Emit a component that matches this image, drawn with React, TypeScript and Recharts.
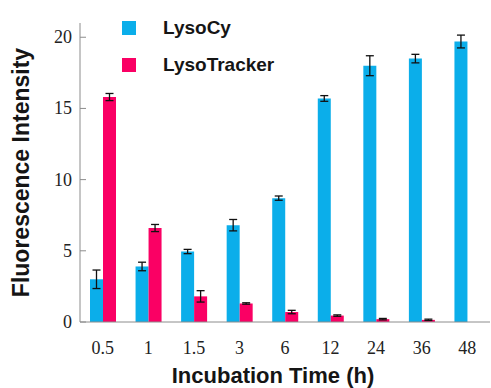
import React from "react";
import { BarChart, Bar, XAxis, YAxis, ErrorBar } from "recharts";

// ─── Data ─────────────────────────────────────────────────────────────────────

const categories = ["0.5", "1", "1.5", "3", "6", "12", "24", "36", "48"];
const lysoCy = [3.0, 3.9, 4.95, 6.8, 8.7, 15.7, 18.0, 18.5, 19.7];
const lysoCyErr = [0.65, 0.3, 0.15, 0.4, 0.15, 0.2, 0.7, 0.3, 0.45];
const lysoTracker = [15.8, 6.6, 1.8, 1.3, 0.7, 0.45, 0.2, 0.15, null];
const lysoTrackerErr = [0.25, 0.25, 0.4, 0.05, 0.12, 0.05, 0.05, 0.05, null];
const yTicks = [0, 5, 10, 15, 20];

const BLUE = "#0BAEEA";
const PINK = "#FA0064";
const AXIS = "#8c8c8c";
const SANS = "'Liberation Sans', Arial, sans-serif";
const SERIF = "'Liberation Serif', 'Times New Roman', serif";

const data = categories.map((time, i) => ({
  time,
  lysoCy: lysoCy[i],
  lysoCyErr: lysoCyErr[i],
  lysoTracker: lysoTracker[i],
  lysoTrackerErr: lysoTrackerErr[i],
}));

const series = [
  { name: "LysoCy", color: BLUE },
  { name: "LysoTracker", color: PINK },
];

// ─── Legend (overlay, no space reserved) ──────────────────────────────────────

function LegendBox() {
  return (
    <div
      style={{
        position: "absolute",
        left: 122,
        top: 17,
        display: "flex",
        flexDirection: "column",
        gap: 16,
      }}
    >
      {series.map((s) => (
        <div key={s.name} style={{ display: "flex", alignItems: "center", height: 21 }}>
          <div style={{ width: 14, height: 14, background: s.color, marginRight: 27 }} />
          <span style={{ fontFamily: SANS, fontWeight: "bold", fontSize: 19, color: "#151515" }}>
            {s.name}
          </span>
        </div>
      ))}
    </div>
  );
}

// ─── Y tick with inward tick mark ─────────────────────────────────────────────

function YTick({ x, y, payload }: any) {
  return (
    <g>
      <line x1={x + 8} x2={x + 14} y1={y} y2={y} stroke={AXIS} strokeWidth={1} />
      <text
        x={x}
        y={y}
        textAnchor="end"
        dominantBaseline="central"
        fontFamily={SERIF}
        fontSize={18}
        fill="#222"
      >
        {payload.value}
      </text>
    </g>
  );
}

function YLabel({ viewBox }: any) {
  const cy = viewBox.y + viewBox.height / 2;
  return (
    <text
      x={21}
      y={cy}
      transform={`rotate(-90, 21, ${cy})`}
      textAnchor="middle"
      dominantBaseline="central"
      fontFamily={SANS}
      fontWeight="bold"
      fontSize={23}
      fill="#151515"
    >
      Fluorescence Intensity
    </text>
  );
}

function XLabel({ viewBox }: any) {
  const cx = viewBox.x + viewBox.width / 2 - 12;
  return (
    <text
      x={cx}
      y={375}
      textAnchor="middle"
      dominantBaseline="central"
      fontFamily={SANS}
      fontWeight="bold"
      fontSize={22}
      fill="#151515"
    >
      Incubation Time (h)
    </text>
  );
}

// ─── Main ─────────────────────────────────────────────────────────────────────

export default function App() {
  return (
    <div style={{ position: "absolute", left: 0, top: 0, width: 491, height: 388, background: "#fff" }}>
      <BarChart
        width={491}
        height={388}
        data={data}
        margin={{ top: 23, right: 1, left: 0, bottom: 0 }}
        barSize={13}
        barGap={0}
      >
        <XAxis
          dataKey="time"
          height={66}
          tickLine={false}
          tickSize={0}
          tickMargin={19}
          stroke={AXIS}
          tick={{ fontFamily: SERIF, fontSize: 18, fill: "#222" }}
          label={<XLabel />}
        />
        <YAxis
          width={80}
          domain={[0, 21]}
          ticks={yTicks}
          tickLine={false}
          tickSize={0}
          tickMargin={8}
          stroke={AXIS}
          tick={<YTick />}
          label={<YLabel />}
        />
        <Bar dataKey="lysoCy" name="LysoCy" fill={BLUE} isAnimationActive={false}>
          <ErrorBar dataKey="lysoCyErr" width={4} stroke="#111" strokeWidth={1.3} />
        </Bar>
        <Bar dataKey="lysoTracker" name="LysoTracker" fill={PINK} isAnimationActive={false}>
          <ErrorBar dataKey="lysoTrackerErr" width={4} stroke="#111" strokeWidth={1.3} />
        </Bar>
      </BarChart>
      <LegendBox />
    </div>
  );
}
